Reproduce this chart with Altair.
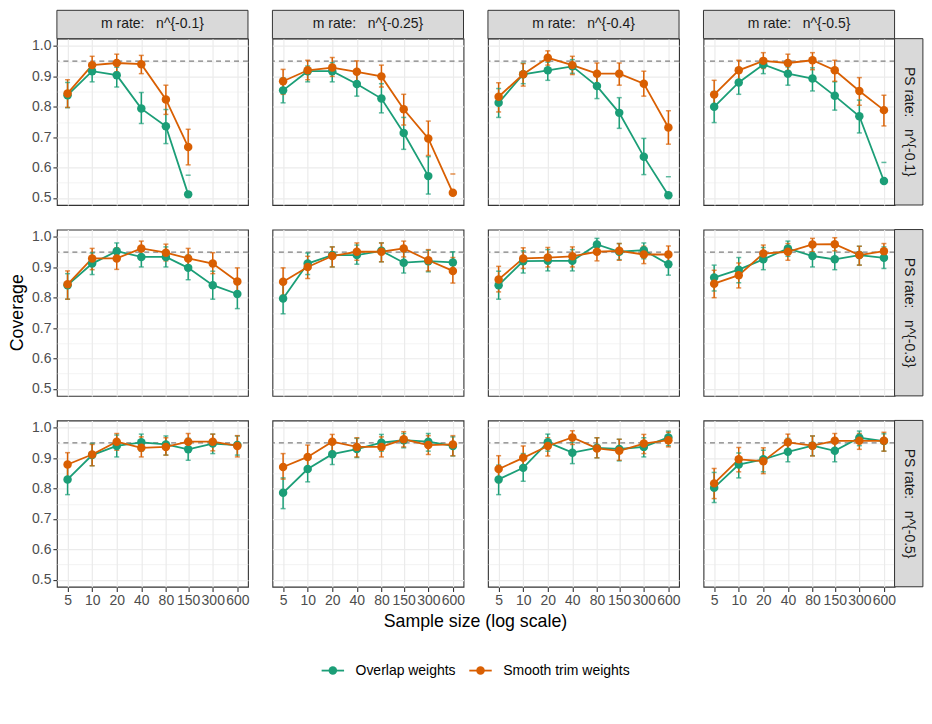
import itertools
import altair as alt
import pandas as pd

SAMPLE_SIZES = [5, 10, 20, 40, 80, 150, 300, 600]
M_RATES = ["m rate: \u00a0\u00a0n^{-0.1}", "m rate: \u00a0\u00a0n^{-0.25}",
           "m rate: \u00a0\u00a0n^{-0.4}", "m rate: \u00a0\u00a0n^{-0.5}"]
PS_RATES = ["PS rate: \u00a0\u00a0n^{-0.1}", "PS rate: \u00a0\u00a0n^{-0.3}",
            "PS rate: \u00a0\u00a0n^{-0.5}"]
METHODS = ["Overlap weights", "Smooth trim weights"]
COLORS = ["#1B9E77", "#D95F02"]
TARGET = 0.95

# panels in row-major order (PS rate rows, m rate columns)
OW_COV = [
    [0.838, 0.917, 0.904, 0.794, 0.736, 0.512, None, None],
    [0.854, 0.917, 0.917, 0.875, 0.827, 0.714, 0.572, None],
    [0.813, 0.907, 0.920, 0.933, 0.868, 0.780, 0.636, 0.509],
    [0.800, 0.880, 0.939, 0.909, 0.893, 0.836, 0.769, 0.556],
    [0.841, 0.912, 0.953, 0.934, 0.934, 0.898, 0.841, 0.812],
    [0.797, 0.912, 0.940, 0.940, 0.954, 0.915, 0.920, 0.916],
    [0.841, 0.920, 0.921, 0.921, 0.975, 0.951, 0.956, 0.910],
    [0.866, 0.892, 0.926, 0.962, 0.937, 0.926, 0.940, 0.931],
    [0.830, 0.910, 0.940, 0.952, 0.945, 0.929, 0.948, 0.943],
    [0.786, 0.864, 0.913, 0.930, 0.951, 0.959, 0.954, 0.940],
    [0.830, 0.868, 0.952, 0.918, 0.934, 0.930, 0.937, 0.968],
    [0.803, 0.879, 0.896, 0.921, 0.941, 0.924, 0.967, 0.956],
]
OW_LO = [
    [0.797, 0.882, 0.865, 0.745, 0.679, 0.450, None, None],
    [0.813, 0.882, 0.882, 0.835, 0.780, 0.660, 0.513, None],
    [0.765, 0.876, 0.887, 0.910, 0.827, 0.729, 0.577, 0.450],
    [0.748, 0.841, 0.909, 0.871, 0.852, 0.789, 0.714, 0.450],
    [0.795, 0.876, 0.923, 0.901, 0.901, 0.859, 0.795, 0.764],
    [0.747, 0.876, 0.901, 0.910, 0.918, 0.881, 0.885, 0.881],
    [0.795, 0.881, 0.888, 0.888, 0.954, 0.925, 0.928, 0.874],
    [0.822, 0.849, 0.892, 0.936, 0.901, 0.892, 0.907, 0.896],
    [0.780, 0.875, 0.904, 0.923, 0.910, 0.893, 0.915, 0.910],
    [0.734, 0.822, 0.879, 0.902, 0.923, 0.934, 0.923, 0.907],
    [0.780, 0.824, 0.923, 0.882, 0.901, 0.891, 0.904, 0.941],
    [0.754, 0.835, 0.855, 0.888, 0.908, 0.888, 0.941, 0.923],
]
OW_HI = [
    [0.880, 0.940, 0.930, 0.847, 0.791, 0.575, None, None],
    [0.895, 0.934, 0.945, 0.912, 0.876, 0.765, 0.636, None],
    [0.860, 0.944, 0.947, 0.955, 0.909, 0.830, 0.696, 0.570],
    [0.850, 0.920, 0.958, 0.931, 0.928, 0.882, 0.822, 0.617],
    [0.879, 0.947, 0.980, 0.967, 0.967, 0.940, 0.887, 0.860],
    [0.844, 0.947, 0.967, 0.973, 0.980, 0.951, 0.956, 0.951],
    [0.887, 0.954, 0.958, 0.958, 0.995, 0.978, 0.980, 0.947],
    [0.907, 0.932, 0.965, 0.986, 0.973, 0.967, 0.969, 0.967],
    [0.877, 0.948, 0.976, 0.979, 0.973, 0.965, 0.979, 0.973],
    [0.835, 0.910, 0.945, 0.965, 0.978, 0.981, 0.981, 0.970],
    [0.877, 0.915, 0.979, 0.952, 0.967, 0.962, 0.967, 0.989],
    [0.853, 0.917, 0.926, 0.965, 0.973, 0.965, 0.989, 0.980],
]
ST_COV = [
    [0.844, 0.937, 0.944, 0.940, 0.824, 0.668, None, None],
    [0.884, 0.920, 0.929, 0.915, 0.900, 0.792, 0.696, 0.517],
    [0.833, 0.907, 0.961, 0.937, 0.909, 0.909, 0.876, 0.732],
    [0.840, 0.920, 0.951, 0.944, 0.953, 0.920, 0.852, 0.789],
    [0.844, 0.929, 0.929, 0.962, 0.948, 0.929, 0.912, 0.853],
    [0.852, 0.901, 0.937, 0.951, 0.951, 0.962, 0.923, 0.888],
    [0.860, 0.929, 0.932, 0.936, 0.951, 0.954, 0.942, 0.942],
    [0.846, 0.874, 0.945, 0.951, 0.975, 0.976, 0.940, 0.953],
    [0.879, 0.912, 0.954, 0.934, 0.937, 0.954, 0.954, 0.940],
    [0.871, 0.904, 0.954, 0.937, 0.937, 0.962, 0.943, 0.945],
    [0.864, 0.901, 0.940, 0.968, 0.932, 0.924, 0.948, 0.959],
    [0.817, 0.896, 0.890, 0.952, 0.941, 0.957, 0.957, 0.957],
]
ST_LO = [
    [0.798, 0.907, 0.915, 0.909, 0.775, 0.609, None, None],
    [0.841, 0.889, 0.900, 0.882, 0.865, 0.740, 0.640, 0.450],
    [0.783, 0.868, 0.937, 0.906, 0.871, 0.871, 0.835, 0.677],
    [0.798, 0.887, 0.926, 0.918, 0.922, 0.884, 0.805, 0.737],
    [0.795, 0.892, 0.893, 0.936, 0.921, 0.896, 0.879, 0.810],
    [0.808, 0.863, 0.901, 0.923, 0.918, 0.934, 0.888, 0.848],
    [0.819, 0.896, 0.901, 0.901, 0.921, 0.923, 0.912, 0.912],
    [0.800, 0.832, 0.918, 0.923, 0.951, 0.954, 0.907, 0.925],
    [0.831, 0.875, 0.926, 0.904, 0.910, 0.926, 0.924, 0.904],
    [0.831, 0.868, 0.923, 0.904, 0.904, 0.937, 0.912, 0.908],
    [0.820, 0.860, 0.907, 0.945, 0.901, 0.893, 0.915, 0.937],
    [0.767, 0.855, 0.849, 0.923, 0.907, 0.926, 0.929, 0.923],
]
ST_HI = [
    [0.889, 0.966, 0.973, 0.969, 0.871, 0.726, None, None],
    [0.923, 0.953, 0.962, 0.951, 0.937, 0.841, 0.753, 0.579],
    [0.879, 0.942, 0.984, 0.966, 0.944, 0.944, 0.917, 0.787],
    [0.887, 0.953, 0.978, 0.973, 0.978, 0.953, 0.896, 0.838],
    [0.888, 0.962, 0.964, 0.986, 0.976, 0.962, 0.948, 0.898],
    [0.898, 0.936, 0.967, 0.980, 0.980, 0.986, 0.958, 0.932],
    [0.903, 0.964, 0.965, 0.967, 0.975, 0.978, 0.969, 0.970],
    [0.890, 0.914, 0.973, 0.978, 0.995, 0.997, 0.969, 0.978],
    [0.918, 0.945, 0.981, 0.970, 0.967, 0.981, 0.979, 0.974],
    [0.915, 0.943, 0.978, 0.967, 0.970, 0.987, 0.974, 0.974],
    [0.908, 0.940, 0.967, 0.990, 0.967, 0.962, 0.978, 0.985],
    [0.866, 0.935, 0.934, 0.979, 0.973, 0.981, 0.981, 0.985],
]

records = []
for p, (ps, m) in enumerate(itertools.product(PS_RATES, M_RATES)):
    for method, cov, lo, hi in [
        (METHODS[0], OW_COV[p], OW_LO[p], OW_HI[p]),
        (METHODS[1], ST_COV[p], ST_LO[p], ST_HI[p]),
    ]:
        for j, n in enumerate(SAMPLE_SIZES):
            records.append({
                "ps": ps, "m": m, "method": method, "n": n,
                "cov": cov[j], "lo": lo[j], "hi": hi[j], "target": TARGET,
                "first": (j == 0 and method == METHODS[0]),
                "top": ps == PS_RATES[0], "right": m == M_RATES[-1],
                "midrow": ps == PS_RATES[1], "botrow": ps == PS_RATES[-1],
                "col0": m == M_RATES[0], "col1": m == M_RATES[1],
            })
df = pd.DataFrame(records)

W, H, STRIP = 191.5, 166.7, 28.4
FONT = "Liberation Sans"

xscale = alt.Scale(type="log", domain=[3.7, 810], nice=False)
yscale = alt.Scale(domain=[0.477, 1.024], nice=False, zero=False)
xaxis = alt.Axis(values=SAMPLE_SIZES, format="d", labelOverlap=False, labelFlush=False,
                 grid=True, title=None)
MINOR = "round(datum.value*100) % 10 == 5"
yaxis = alt.Axis(values=[0.5, 0.55, 0.6, 0.65, 0.7, 0.75, 0.8, 0.85, 0.9, 0.95, 1.0],
                 labelExpr="round(datum.value*100) % 10 == 5 ? '' : format(datum.value, '.1f')",
                 gridWidth={"condition": {"test": MINOR, "value": 0.6}, "value": 1.2},
                 tickOpacity={"condition": {"test": MINOR, "value": 0}, "value": 1},
                 grid=True, title=None)

X = alt.X("n:Q", scale=xscale, axis=xaxis, title=None)
cscale = alt.Scale(domain=METHODS, range=COLORS)

def Y(field):
    return alt.Y(field, scale=yscale, axis=yaxis, title=None)

ref = alt.Chart().mark_rule(strokeDash=[5, 4], color="#7f7f7f", strokeWidth=1.3).encode(
    y=Y("target:Q")).transform_filter("datum.first")

bars = alt.Chart().mark_rule(strokeWidth=1.5).encode(
    x=X, y=Y("lo:Q"), y2="hi:Q",
    stroke=alt.Stroke("method:N", scale=cscale, legend=None),
).transform_filter("datum.lo != null && datum.lo >= 0.5 && datum.hi != null")

cap_hi = alt.Chart().mark_tick(orient="horizontal", size=5, thickness=1.5).encode(
    x=X, y=Y("hi:Q"), fill=alt.Fill("method:N", scale=cscale, legend=None),
).transform_filter("datum.hi != null && datum.hi >= 0.5 && datum.hi <= 1.02")

cap_lo = alt.Chart().mark_tick(orient="horizontal", size=5, thickness=1.5).encode(
    x=X, y=Y("lo:Q"), fill=alt.Fill("method:N", scale=cscale, legend=None),
).transform_filter("datum.lo != null && datum.lo >= 0.5")

lines = alt.Chart().mark_line(strokeWidth=1.8).encode(
    x=X, y=Y("cov:Q"), stroke=alt.Stroke("method:N", scale=cscale, legend=None),
).transform_filter("datum.cov != null")

points = alt.Chart().mark_circle(size=72, opacity=1).encode(
    x=X, y=Y("cov:Q"), color=alt.Color("method:N", scale=cscale, legend=None),
).transform_filter("datum.cov != null")

strip_top = alt.Chart().mark_rect(fill="#d9d9d9", stroke="#333333", strokeWidth=1).encode(
    x=alt.value(0), x2=alt.value(W), y=alt.value(-STRIP), y2=alt.value(0)
).transform_filter("datum.first && datum.top")
strip_top_text = alt.Chart().mark_text(fontSize=14, color="#1a1a1a", font=FONT,
                                       baseline="middle", align="center").encode(
    x=alt.value(W / 2), y=alt.value(-STRIP / 2), text="m:N"
).transform_filter("datum.first && datum.top")

strip_right = alt.Chart().mark_rect(fill="#d9d9d9", stroke="#333333", strokeWidth=1).encode(
    x=alt.value(W), x2=alt.value(W + STRIP), y=alt.value(0), y2=alt.value(H)
).transform_filter("datum.first && datum.right")
strip_right_text = alt.Chart().mark_text(fontSize=14, color="#1a1a1a", font=FONT, angle=90,
                                         baseline="middle", align="center").encode(
    x=alt.value(W + STRIP / 2), y=alt.value(H / 2), text="ps:N"
).transform_filter("datum.first && datum.right")

ytitle = alt.Chart().mark_text(fontSize=17.8, color="#000000", font=FONT, angle=270,
                               baseline="middle", align="center").encode(
    x=alt.value(-39), y=alt.value(H / 2), text=alt.value("Coverage")
).transform_filter("datum.first && datum.midrow && datum.col0")

BOTTOM = "datum.first && datum.botrow && datum.col1"
xtitle = alt.Chart().mark_text(fontSize=17.8, color="#000000", font=FONT,
                               baseline="middle", align="center").encode(
    x=alt.value(W + 12), y=alt.value(H + 35), text=alt.value("Sample size (log scale)")
).transform_filter(BOTTOM)

# legend (drawn below the bottom row, centred under the panels)
LEG_Y = H + 84
LEG_POS = [(49.3, 83.3), (197.3, 231.3)]
legend_layers = []
for (sx, tx), name, col in zip(LEG_POS, METHODS, COLORS):
    legend_layers.append(alt.Chart().mark_rule(color=col, strokeWidth=1.8).encode(
        x=alt.value(sx), x2=alt.value(sx + 22.5), y=alt.value(LEG_Y)).transform_filter(BOTTOM))
    legend_layers.append(alt.Chart().mark_circle(color=col, size=72, opacity=1).encode(
        x=alt.value(sx + 11.25), y=alt.value(LEG_Y)).transform_filter(BOTTOM))
    legend_layers.append(alt.Chart().mark_text(fontSize=14, color="#000000", font=FONT,
                                               align="left", baseline="middle").encode(
        x=alt.value(tx), y=alt.value(LEG_Y), text=alt.value(name)).transform_filter(BOTTOM))

layered = alt.layer(
    ref, bars, cap_hi, cap_lo, lines, points,
    strip_top, strip_top_text, strip_right, strip_right_text, ytitle, xtitle,
    *legend_layers,
    data=df,
).properties(width=W, height=H)

chart = layered.facet(
    row=alt.Row("ps:N", sort=PS_RATES, header=None, title=None),
    column=alt.Column("m:N", sort=M_RATES, header=None, title=None),
    spacing={"row": 24.3, "column": 24},
    bounds="flush",
).properties(padding=0).configure_view(
    stroke="#333333", strokeWidth=1.1
).configure_axis(
    labelFont=FONT, labelFontSize=14, labelColor="#4d4d4d",
    tickColor="#333333", tickSize=4, tickWidth=1.1, labelPadding=2,
    domain=False, gridColor="#ebebeb", gridWidth=1.2,
)

chart.save("out.html", embed_options={"renderer": "svg", "actions": False})
